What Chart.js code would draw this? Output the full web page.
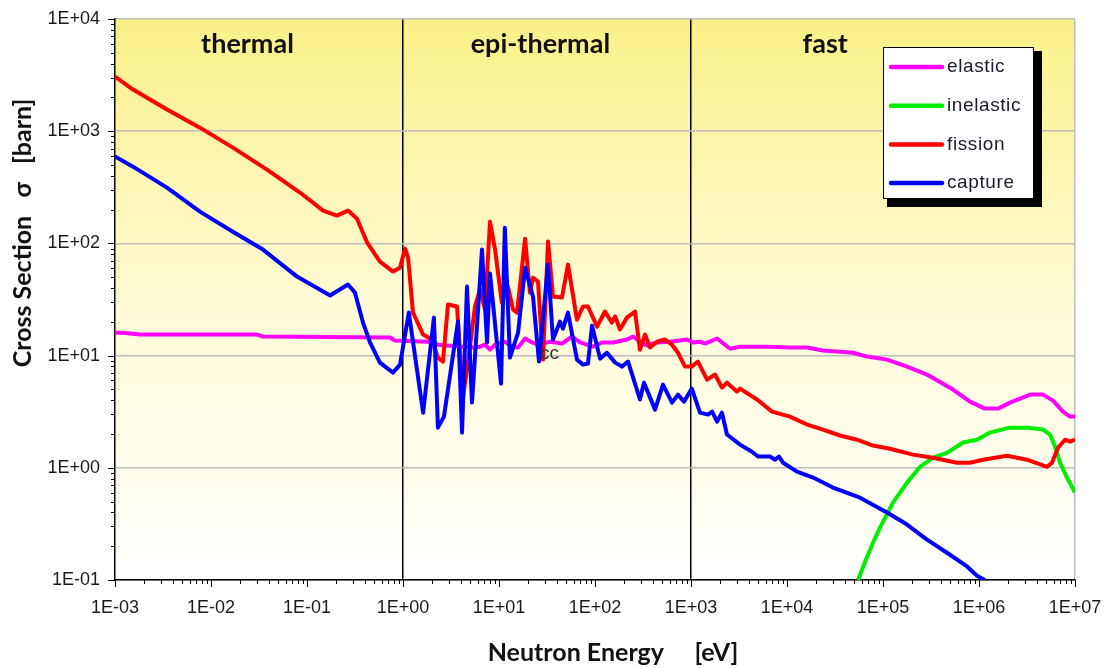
<!DOCTYPE html>
<html>
<head>
  <meta charset="UTF-8" />
  <title>Neutron Cross Sections</title>
  <script src="https://cdn.jsdelivr.net/npm/chart.js"></script>
  <style>
    html, body { margin: 0; padding: 0; background: #fff; }
    #wrap { width: 1111px; height: 668px; }
  </style>
</head>
<body>
  <div id="wrap"><canvas id="xsChart" width="1111" height="668"></canvas></div>

  <script>
// energy grid [eV] and cross sections [barn] for each reaction
const elasticEnergy = [1.00e-3, 1.21e-3, 1.82e-3, 3.02e-2, 3.48e-2, 0.732, 0.825, 1.82, 2.31, 4.12, 5.62, 6.34, 7.15, 8.06, 9.09, 11.5, 13.7, 15.8, 18.7, 22.1, 25.5, 34.0, 45.3, 57.6, 69.8, 95.3, 118, 154, 215, 249, 294, 348, 442, 604, 908, 1.05e3, 1.24e3, 1.40e3, 1.87e3, 2.55e3, 3.24e3, 6.19e3, 1.07e4, 1.62e4, 2.37e4, 4.87e4, 6.81e4, 1.10e5, 1.78e5, 2.87e5, 5.36e5, 8.05e5, 1.15e6, 1.58e6, 2.10e6, 3.40e6, 4.64e6, 5.90e6, 7.50e6, 8.87e6, 1.0e7];
const elasticXS = [16.0, 16.0, 15.4, 15.4, 14.8, 14.5, 13.6, 13.3, 12.5, 12.0, 11.8, 12.0, 12.5, 11.3, 12.5, 13.3, 12.0, 11.8, 14.2, 13.1, 12.5, 13.3, 12.8, 14.8, 13.1, 12.0, 13.1, 13.1, 13.9, 14.8, 13.3, 12.3, 13.1, 13.3, 13.9, 13.1, 13.3, 12.8, 14.2, 11.5, 12.0, 12.0, 11.8, 11.8, 11.1, 10.6, 9.8, 9.21, 7.98, 6.78, 4.98, 3.89, 3.37, 3.37, 3.81, 4.49, 4.49, 3.97, 3.17, 2.86, 2.86];

const inelasticEnergy = [5.49e4, 6.65e4, 7.87e4, 9.31e4, 1.27e5, 1.78e5, 2.43e5, 3.32e5, 4.64e5, 6.81e5, 9.53e5, 1.30e6, 2.10e6, 3.16e6, 4.64e6, 5.49e6, 6.19e6, 6.98e6, 8.25e6, 1.0e7];
const inelasticXS = [0.100, 0.152, 0.215, 0.293, 0.490, 0.738, 1.02, 1.23, 1.36, 1.68, 1.78, 2.06, 2.28, 2.28, 2.19, 1.98, 1.55, 1.11, 0.819, 0.601];

const fissionEnergy = [1.00e-3, 1.54e-3, 3.48e-3, 7.67e-3, 1.69e-2, 3.83e-2, 8.45e-2, 0.147, 0.205, 0.267, 0.332, 0.422, 0.575, 0.787, 0.931, 1.05, 1.13, 1.27, 1.62, 2.00, 2.31, 2.61, 2.94, 3.65, 4.22, 4.75, 5.62, 6.34, 7.15, 8.06, 9.09, 10.7, 12.4, 14.0, 15.4, 18.7, 21.0, 22.6, 25.5, 28.7, 32.4, 36.5, 45.3, 52.3, 64.9, 75.0, 84.5, 105, 127, 150, 162, 182, 215, 261, 294, 332, 374, 442, 536, 634, 732, 866, 1.02e3, 1.18e3, 1.47e3, 1.78e3, 2.10e3, 2.37e3, 3.01e3, 3.24e3, 4.87e3, 6.98e3, 1.07e4, 1.62e4, 2.37e4, 3.56e4, 5.36e4, 7.87e4, 1.18e5, 2.05e5, 3.32e5, 5.90e5, 8.05e5, 1.10e6, 1.96e6, 3.16e6, 5.11e6, 5.76e6, 6.65e6, 7.87e6, 8.87e6, 1.0e7];
const fissionXS = [3070, 2350, 1560, 1076, 714, 455, 284, 196, 177, 196, 166, 102, 68.9, 56.1, 60.8, 89.9, 74.7, 24.2, 15.4, 13.9, 9.6, 8.85, 28.5, 27.4, 4.31, 8.66, 27.4, 38.7, 25.7, 156, 88.1, 29.6, 41.2, 25.7, 24.2, 110, 36.4, 49.5, 45.7, 9.21, 104, 33.6, 32.9, 64.7, 20.9, 27.4, 27.4, 18.1, 24.7, 19.7, 22.3, 17.1, 21.8, 24.7, 11.3, 15.4, 11.8, 13.3, 13.9, 12.5, 10.6, 7.98, 7.98, 8.85, 6.11, 6.78, 5.19, 5.74, 4.78, 5.08, 4.06, 3.17, 2.86, 2.43, 2.19, 1.94, 1.78, 1.58, 1.48, 1.31, 1.23, 1.11, 1.11, 1.18, 1.28, 1.18, 1.02, 1.11, 1.51, 1.78, 1.71, 1.78];

const captureEnergy = [1.00e-3, 1.54e-3, 3.48e-3, 7.67e-3, 1.69e-2, 3.48e-2, 7.87e-2, 0.174, 0.267, 0.316, 0.383, 0.453, 0.575, 0.787, 0.931, 1.15, 1.62, 2.10, 2.31, 2.67, 3.74, 4.12, 4.64, 5.23, 6.65, 7.50, 8.06, 10.5, 11.5, 13.0, 15.8, 18.7, 22.6, 26.1, 32.4, 36.5, 43.2, 46.4, 52.3, 64.9, 75.0, 84.5, 93.1, 113, 133, 162, 191, 221, 294, 324, 422, 511, 634, 732, 845, 1.02e3, 1.24e3, 1.50e3, 1.66e3, 1.87e3, 2.10e3, 2.37e3, 3.24e3, 4.32e3, 4.99e3, 6.65e3, 7.50e3, 8.25e3, 9.09e3, 1.27e4, 1.87e4, 3.01e4, 5.76e4, 1.10e5, 1.78e5, 2.87e5, 4.64e5, 7.50e5, 9.53e5, 1.15e6];
const captureXS = [594, 483, 314, 192, 127, 88.1, 50.6, 34.3, 43.0, 36.4, 19.7, 13.1, 8.66, 7.05, 8.31, 24.2, 3.10, 21.8, 2.28, 2.86, 20.1, 2.06, 41.2, 3.81, 88.1, 13.1, 53.8, 5.62, 138, 9.6, 16.0, 60.8, 33.6, 8.85, 64.7, 13.9, 20.1, 17.4, 24.2, 9.21, 8.31, 8.49, 18.5, 9.40, 10.6, 8.66, 7.98, 8.85, 4.06, 5.74, 3.30, 5.52, 3.81, 4.49, 3.89, 5.08, 3.10, 2.98, 3.17, 2.58, 3.10, 1.98, 1.61, 1.39, 1.26, 1.26, 1.18, 1.26, 1.11, 0.925, 0.819, 0.667, 0.542, 0.399, 0.312, 0.229, 0.175, 0.132, 0.109, 0.100];

// axis decades and their labels
const xDecades = [1e-3, 1e-2, 1e-1, 1e0, 1e1, 1e2, 1e3, 1e4, 1e5, 1e6, 1e7];
const xTickLabels = ['1E-03', '1E-02', '1E-01', '1E+00', '1E+01', '1E+02', '1E+03', '1E+04', '1E+05', '1E+06', '1E+07'];
const yDecades = [1e-1, 1e0, 1e1, 1e2, 1e3, 1e4];
const yTickLabels = ['1E-01', '1E+00', '1E+01', '1E+02', '1E+03', '1E+04'];

// energy range boundaries and their names
const regionBounds = [1, 1000];
const regionNames = ['thermal', 'epi-thermal', 'fast'];
const regionLabelEnergy = [0.024, 27, 2.5e4];

// stray label sitting on the plot
const noteText = 'cc';
const noteEnergy = 26.7;
const noteXS = 10.4;

const toPoints = (xs, ys) => xs.map((x, i) => ({ x, y: ys[i] }));
const sameDecade = (a, b) => Math.abs(Math.log10(a) - Math.log10(b)) < 1e-6;

// one tick per decade plus the 2..9 minors in between
function logTicks(decades) {
  const out = [];
  decades.forEach((d, i) => {
    out.push({ value: d, major: true });
    if (i < decades.length - 1) {
      for (let m = 2; m <= 9; m++) out.push({ value: d * m, major: false });
    }
  });
  return out;
}

const series = [
  { label: 'elastic', color: '#ff00ff', data: toPoints(elasticEnergy, elasticXS), order: 4 },
  { label: 'inelastic', color: '#00ee00', data: toPoints(inelasticEnergy, inelasticXS), order: 3 },
  { label: 'fission', color: '#ff0000', data: toPoints(fissionEnergy, fissionXS), order: 2 },
  { label: 'capture', color: '#0000ff', data: toPoints(captureEnergy, captureXS), order: 1 }
];

const decorPlugin = {
  id: 'decor',
  beforeDraw(chart) {
    const { ctx, chartArea: a } = chart;
    ctx.save();
    ctx.fillStyle = '#fff';
    ctx.fillRect(0, 0, chart.width, chart.height);
    const g = ctx.createLinearGradient(0, a.top, 0, a.bottom);
    g.addColorStop(0, '#faf088');
    g.addColorStop(0.5, '#fffbd4');
    g.addColorStop(1, '#ffffff');
    ctx.fillStyle = g;
    ctx.fillRect(a.left, a.top, a.right - a.left, a.bottom - a.top);
    ctx.restore();
  },
  afterDraw(chart) {
    const { ctx, chartArea: a, scales } = chart;
    const xs = scales.x, ys = scales.y;
    ctx.save();

    // tick marks, longer on the decades
    ctx.strokeStyle = '#000';
    ctx.lineWidth = 1;
    ctx.beginPath();
    xs.ticks.forEach(t => {
      const px = Math.round(xs.getPixelForValue(t.value)) + 0.5;
      ctx.moveTo(px, a.bottom);
      ctx.lineTo(px, a.bottom + (t.major ? 7 : 4));
    });
    ys.ticks.forEach(t => {
      const py = Math.round(ys.getPixelForValue(t.value)) + 0.5;
      ctx.moveTo(a.left, py);
      ctx.lineTo(a.left - (t.major ? 7 : 4), py);
    });
    ctx.stroke();

    // decade labels
    ctx.fillStyle = '#1a1a1a';
    ctx.font = '18px "Liberation Sans"';
    ctx.textBaseline = 'middle';
    ctx.textAlign = 'center';
    xDecades.forEach((v, i) => ctx.fillText(xTickLabels[i], xs.getPixelForValue(v), a.bottom + 28));
    ctx.textAlign = 'right';
    yDecades.forEach((v, i) => ctx.fillText(yTickLabels[i], a.left - 15, ys.getPixelForValue(v)));

    // region names
    ctx.fillStyle = '#111';
    ctx.font = 'bold 27px Lato';
    ctx.textAlign = 'center';
    regionNames.forEach((name, i) => {
      ctx.fillText(name, xs.getPixelForValue(regionLabelEnergy[i]), a.top + 25);
    });

    // stray note
    ctx.font = '19px "Liberation Sans"';
    ctx.textAlign = 'left';
    ctx.fillStyle = '#333';
    ctx.fillText(noteText, xs.getPixelForValue(noteEnergy), ys.getPixelForValue(noteXS));

    // axis titles
    ctx.fillStyle = '#111';
    ctx.font = 'bold 25px Lato';
    ctx.textAlign = 'center';
    ctx.fillText('Neutron Energy     [eV]', 613, 653);
    ctx.save();
    ctx.translate(23, 233);
    ctx.rotate(-Math.PI / 2);
    ctx.fillText('Cross Section   \u03c3   [barn]', 0, 0);
    ctx.restore();

    // legend box with drop shadow
    const lx = a.right - 192, ly = a.top + 28, lw = 151, lh = 152;
    ctx.fillStyle = '#000';
    ctx.fillRect(lx + 4, ly + 4, lw + 4, lh + 4);
    ctx.fillStyle = '#fff';
    ctx.fillRect(lx, ly, lw, lh);
    ctx.strokeStyle = '#000';
    ctx.lineWidth = 1;
    ctx.strokeRect(lx + 0.5, ly + 0.5, lw - 1, lh - 1);
    ctx.font = '19px "Liberation Sans"';
    ctx.textAlign = 'left';
    ctx.letterSpacing = '0.6px';
    chart.data.datasets.forEach((ds, i) => {
      const y = ly + 20 + i * 38.7;
      ctx.strokeStyle = ds.borderColor;
      ctx.lineWidth = 4.5;
      ctx.lineCap = 'round';
      ctx.beginPath();
      ctx.moveTo(lx + 8, y);
      ctx.lineTo(lx + 59, y);
      ctx.stroke();
      ctx.fillStyle = '#1a1a2a';
      ctx.fillText(ds.label, lx + 64, y);
    });
    ctx.restore();
  }
};

new Chart(document.getElementById('xsChart'), {
  type: 'line',
  data: {
    datasets: series.map(s => ({
      label: s.label,
      data: s.data,
      borderColor: s.color,
      backgroundColor: s.color,
      borderWidth: 4,
      borderJoinStyle: 'round',
      pointRadius: 0,
      tension: 0,
      order: s.order
    }))
  },
  options: {
    responsive: false,
    animation: false,
    devicePixelRatio: 1,
    layout: { padding: { top: 19, right: 36, left: 0, bottom: 0 } },
    plugins: {
      legend: { display: false },
      tooltip: { enabled: false }
    },
    scales: {
      x: {
        type: 'logarithmic',
        min: 1e-3,
        max: 1e7,
        afterBuildTicks: s => { s.ticks = logTicks(xDecades); },
        afterFit: s => { s.height = 88; },
        ticks: { display: false, autoSkip: false },
        grid: {
          drawTicks: false,
          color: c => {
            const v = c.tick ? c.tick.value : 0;
            if (regionBounds.some(b => sameDecade(b, v))) return '#000';
            if (sameDecade(v, 1e7)) return '#bdbdbd';
            return 'rgba(0,0,0,0)';
          },
          lineWidth: 1.5
        },
        border: { color: '#000', width: 1.5 }
      },
      y: {
        type: 'logarithmic',
        min: 1e-1,
        max: 1e4,
        afterBuildTicks: s => { s.ticks = logTicks(yDecades); },
        afterFit: s => { s.width = 115; },
        ticks: { display: false, autoSkip: false },
        grid: {
          drawTicks: false,
          color: c => (c.tick && c.tick.major ? '#bdbdbd' : 'rgba(0,0,0,0)'),
          lineWidth: 1.5
        },
        border: { color: '#000', width: 1.5 }
      }
    }
  },
  plugins: [decorPlugin]
});
  </script>
</body>
</html>
